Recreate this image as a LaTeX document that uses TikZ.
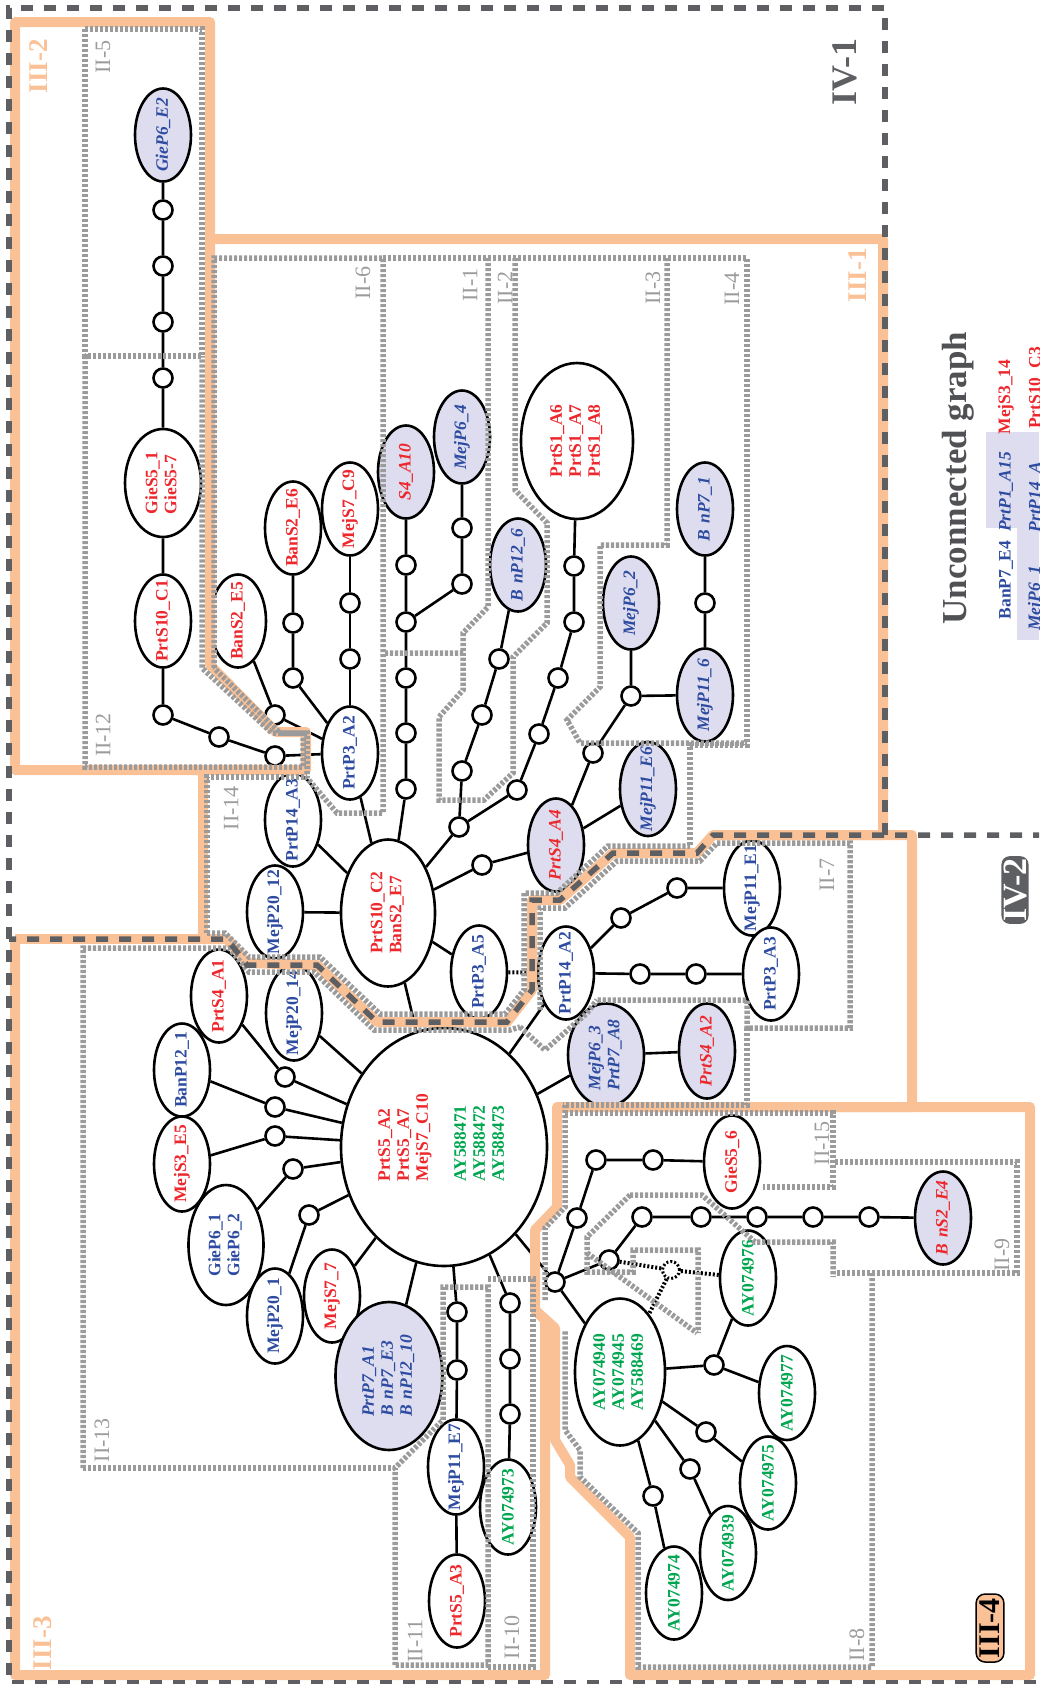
\documentclass[tikz,border=0pt]{standalone}
\usepackage{fontspec}
\setmainfont{Liberation Serif}
\usetikzlibrary{shapes.geometric,backgrounds}
\definecolor{cred}{RGB}{237,40,45}
\definecolor{cblue}{RGB}{45,75,160}
\definecolor{cgreen}{RGB}{0,166,80}
\definecolor{clav}{RGB}{221,221,239}
\definecolor{corange}{RGB}{250,193,150}
\definecolor{cdark}{RGB}{94,95,99}
\definecolor{cgray}{RGB}{155,155,155}
\newcommand\Tx[1]{\makebox[0pt]{#1}}
\newcommand\Tm[1]{\makebox[0pt]{\begin{tabular}{@{}l@{}}#1\end{tabular}}}
\tikzset{
 ebox/.style={ellipse, draw=black, line width=2.6pt, fill=white, inner sep=0pt, rotate=90,
   minimum width=93pt, minimum height=56pt, font=\fontsize{17.5}{19}\selectfont\bfseries},
 elav/.style={ebox, fill=clav, font=\fontsize{17.5}{19}\selectfont\bfseries\itshape},
 dotn/.style={circle, draw=black, line width=2.6pt, fill=white, minimum size=19pt, inner sep=0pt},
 ddot/.style={circle, draw=black, line width=3pt, dash pattern=on 2pt off 2pt, fill=white, minimum size=17pt, inner sep=0pt},
 edge/.style={line width=2.6pt},
 bdot/.style={line width=4pt, dash pattern=on 2pt off 2pt},
 orng/.style={draw=corange, line width=10pt, line join=round},
 dotg/.style={draw=cgray, line width=5.5pt, dash pattern=on 3.2pt off 1.8pt},
 dashd/.style={draw=cdark, line width=5.5pt, dash pattern=on 12pt off 11pt},
 iilab/.style={rotate=90, text=cgray, font=\fontsize{22}{22}\selectfont},
 iiilab/.style={rotate=90, text=corange, font=\fontsize{27}{27}\selectfont\bfseries},
}
\begin{document}
\begin{tikzpicture}[x=1pt,y=-1pt]
\useasboundingbox (0,0) rectangle (1039,1684);
\clip (0,0) rectangle (1039,1684);
% ---------------- nodes ----------------
\node[elav,text=cblue] (ge2) at (163,135) {\Tx{GieP6\_E2}};
\node[dotn] (d1) at (163,210) {};
\node[dotn] (d2) at (163,266) {};
\node[dotn] (d3) at (163,322) {};
\node[dotn] (d4) at (163,378) {};
\node[ebox,text=cred,minimum width=108pt,minimum height=76pt] (gs5) at (163,483) {\Tm{GieS5\_1\\GieS5-7}};
\node[ebox,text=cred] (c1) at (163,621) {\Tx{PrtS10\_C1}};
\node[dotn] (d5) at (163,715) {};
\node[dotn] (d6) at (219,737) {};
\node[dotn] (d7) at (275,756) {};
\node[ebox,text=cred] (be5) at (238,621) {\Tx{BanS2\_E5}};
\node[dotn] (d8) at (275,715) {};
\node[ebox,text=cred] (be6) at (293,528) {\Tx{BanS2\_E6}};
\node[dotn] (d9) at (293,623) {};
\node[dotn] (d10) at (293,678) {};
\node[ebox,text=cred] (c9) at (350,509) {\Tx{MejS7\_C9}};
\node[dotn] (d11) at (350,603) {};
\node[dotn] (d12) at (350,659) {};
\node[ebox,text=cblue] (a2) at (350,753) {\Tx{PrtP3\_A2}};
\node[elav,text=cred] (a10) at (406,472) {\Tx{S4\_A10}};
\node[dotn] (d13) at (406,565) {};
\node[dotn] (d14) at (406,622) {};
\node[dotn] (d15) at (406,678) {};
\node[dotn] (d16) at (406,733) {};
\node[dotn] (d17) at (406,789) {};
\node[elav,text=cblue] (m4) at (462,437) {\Tx{MejP6\_4}};
\node[dotn] (d18) at (462,528) {};
\node[dotn] (d19) at (462,584) {};
\node[elav,text=cblue] (p12) at (518,565) {\Tx{B\hspace{6pt}nP12\_6}};
\node[dotn] (d20) at (499,659) {};
\node[dotn] (d21) at (482,715) {};
\node[dotn] (d22) at (462,771) {};
\node[dotn] (d23) at (459,827) {};
\node[ebox,text=cred,minimum width=156pt,minimum height=112pt] (s1) at (577,441) {\Tm{PrtS1\_A6\\PrtS1\_A7\\PrtS1\_A8}};
\node[dotn] (d24) at (574,566) {};
\node[dotn] (d25) at (574,622) {};
\node[dotn] (d26) at (558,678) {};
\node[dotn] (d27) at (539,734) {};
\node[dotn] (d28) at (517,790) {};
\node[elav,text=cblue] (mp62) at (631,603) {\Tx{MejP6\_2}};
\node[elav,text=cblue] (np71) at (705,509) {\Tx{B\hspace{6pt}nP7\_1}};
\node[dotn] (d29) at (705,603) {};
\node[elav,text=cblue] (m116) at (705,695) {\Tx{MejP11\_6}};
\node[dotn] (d30) at (631,696) {};
\node[dotn] (d31) at (593,753) {};
\node[elav,text=cred] (a4) at (556,845) {\Tx{PrtS4\_A4}};
\node[elav,text=cblue,minimum width=94pt] (e6) at (648,789) {\Tx{MejP11\_E6}};
\node[ebox,text=cred,minimum width=147pt,minimum height=94pt] (c2) at (388,913) {\Tm{PrtS10\_C2\\BanS2\_E7}};
\node[ebox,text=cblue] (a3p) at (293,820) {\Tx{PrtP14\_A3}};
\node[ebox,text=cblue] (m2012) at (275,912) {\Tx{MejP20\_12}};
\node[ebox,text=cblue,minimum width=95pt] (m2014) at (294,1013) {\Tx{MejP20\_14}};
\node[dotn] (d32) at (482,865) {};
\node[ebox,text=cblue] (a5) at (479,972) {\Tx{PrtP3\_A5}};
\node[ebox,text=cblue] (p14) at (566,973) {\Tx{PrtP14\_A2}};
\node[dotn] (d33) at (621,918) {};
\node[dotn] (d34) at (677,888) {};
\node[ebox,text=cblue,minimum width=95pt] (e1) at (752,888) {\Tx{MejP11\_E1}};
\node[dotn] (d35) at (640,974) {};
\node[dotn] (d36) at (696,974) {};
\node[ebox,text=cblue] (p3a3) at (771,974) {\Tx{PrtP3\_A3}};
\node[elav,text=cblue,minimum width=103pt,minimum height=76pt] (m63) at (606,1055) {\Tm{MejP6\_3\\PrtP7\_A8}};
\node[elav,text=cred,minimum width=95pt] (s4a2) at (707,1051) {\Tx{PrtS4\_A2}};
\node[ellipse,draw=black,line width=2.6pt,fill=white,minimum width=206pt,minimum height=238pt,inner sep=0pt] (hub) at (444,1147) {};
\node[rotate=90,anchor=west,text=cred,font=\fontsize{17.5}{19}\selectfont\bfseries] (hubr) at (405,1185) {\begin{tabular}{@{}l@{}}PrtS5\_A2\\PrtS5\_A7\\MejS7\_C10\end{tabular}};
\node[rotate=90,anchor=west,text=cgreen,font=\fontsize{17.5}{19}\selectfont\bfseries] (hubg) at (481,1185) {\begin{tabular}{@{}l@{}}AY588471\\AY588472\\AY588473\end{tabular}};
\node[ebox,text=cred] (a1) at (219,996) {\Tx{PrtS4\_A1}};
\node[dotn] (d37) at (285,1077) {};
\node[ebox,text=cblue] (b121) at (182,1070) {\Tx{BanP12\_1}};
\node[dotn] (d38) at (275,1107) {};
\node[ebox,text=cred,minimum width=95pt] (e5) at (182,1164) {\Tx{MejS3\_E5}};
\node[dotn] (d39) at (275,1136) {};
\node[ebox,text=cblue,minimum width=120pt,minimum height=75pt] (g6) at (226,1245) {\Tm{GieP6\_1\\GieP6\_2}};
\node[dotn] (d40) at (293,1169) {};
\node[ebox,text=cblue,minimum width=95pt] (m201) at (275,1316) {\Tx{MejP20\_1}};
\node[dotn] (d41) at (309,1215) {};
\node[ebox,text=cred] (s77) at (332,1296) {\Tx{MejS7\_7}};
\node[elav,text=cblue,minimum width=148pt,minimum height=107pt] (p7a1) at (389,1376) {\Tm{PrtP7\_A1\\B\hspace{6pt}nP7\_E3\\B\hspace{6pt}nP12\_10}};
\node[dotn] (d42) at (457,1312) {};
\node[dotn] (d43) at (457,1370) {};
\node[ebox,text=cblue,minimum width=95pt] (e7) at (456,1467) {\Tx{MejP11\_E7}};
\node[ebox,text=cred] (s5a3) at (457,1601) {\Tx{PrtS5\_A3}};
\node[dotn] (d44) at (510,1303) {};
\node[dotn] (d45) at (510,1359) {};
\node[dotn] (d46) at (510,1414) {};
\node[ebox,text=cgreen,minimum width=95pt] (ay73) at (508,1507) {\Tx{AY074973}};
\node[dotn] (d47) at (555,1282) {};
\node[dotn] (d48) at (577,1218) {};
\node[dotn] (d49) at (596,1160) {};
\node[dotn] (d50) at (653,1160) {};
\node[ebox,text=cred] (g56) at (732,1162) {\Tx{GieS5\_6}};
\node[dotn] (d51) at (609,1260) {};
\node[dotn] (d52) at (642,1217) {};
\node[dotn] (d53) at (701,1217) {};
\node[dotn] (d54) at (757,1217) {};
\node[dotn] (d55) at (813,1217) {};
\node[dotn] (d56) at (869,1217) {};
\node[elav,text=cred] (e4) at (943,1218) {\Tx{B\hspace{6pt}nS2\_E4}};
\node[ddot] (dd) at (671,1270) {};
\node[ebox,text=cgreen,minimum width=95pt] (ay76) at (748,1278) {\Tx{AY074976}};
\node[ebox,text=cgreen,minimum width=147pt,minimum height=90pt] (big) at (620,1372) {\Tm{AY074940\\AY074945\\AY588469}};
\node[dotn] (d57) at (714,1365) {};
\node[ebox,text=cgreen,minimum width=94pt] (ay77) at (787,1393) {\Tx{AY074977}};
\node[dotn] (d58) at (706,1432) {};
\node[ebox,text=cgreen] (ay75) at (768,1483) {\Tx{AY074975}};
\node[dotn] (d59) at (690,1469) {};
\node[ebox,text=cgreen,minimum width=94pt] (ay39) at (728,1553) {\Tx{AY074939}};
\node[dotn] (d60) at (653,1496) {};
\node[ebox,text=cgreen] (ay74) at (674,1593) {\Tx{AY074974}};
% ---------------- edges ----------------
\begin{pgfonlayer}{background}
\draw[edge] (ge2) -- (d1) -- (d2) -- (d3) -- (d4) -- (gs5) -- (c1) -- (d5) -- (d6) -- (d7) -- (a2);
\draw[edge] (be5) -- (d8) -- (a2);
\draw[edge] (be6) -- (d9) -- (d10) -- (a2);
\draw[edge] (c9) -- (d11) -- (d12) -- (a2);
\draw[edge] (a2) -- (c2);
\draw[edge] (a10) -- (d13) -- (d14) -- (d15) -- (d16) -- (d17) -- (c2);
\draw[edge] (m4) -- (d18) -- (d19) -- (d14);
\draw[edge] (p12) -- (d20) -- (d21) -- (d22) -- (d23) -- (c2);
\draw[edge] (s1) -- (d24) -- (d25) -- (d26) -- (d27) -- (d28) -- (d23);
\draw[edge] (np71) -- (d29) -- (m116) -- (d30) -- (mp62);
\draw[edge] (d30) -- (d31) -- (a4) -- (e6);
\draw[edge] (c2) -- (d32) -- (a4);
\draw[edge] (a3p) -- (c2);
\draw[edge] (m2012) -- (c2);
\draw[edge] (c2) -- (a5);
\draw[edge] (c2) -- (hub);
\draw[edge] (p14) -- (d33) -- (d34) -- (e1);
\draw[edge] (p14) -- (d35) -- (d36) -- (p3a3);
\draw[edge] (p14) -- (hub);
\draw[edge] (m63) -- (hub);
\draw[edge] (m63) -- (s4a2);
\draw[edge] (m2014) -- (hub);
\draw[edge] (a1) -- (d37) -- (hub);
\draw[edge] (b121) -- (d38) -- (hub);
\draw[edge] (e5) -- (d39) -- (hub);
\draw[edge] (g6) -- (d40) -- (hub);
\draw[edge] (m201) -- (d41) -- (hub);
\draw[edge] (s77) -- (hub);
\draw[edge] (p7a1) -- (hub);
\draw[edge] (hub) -- (d42) -- (d43) -- (e7) -- (s5a3);
\draw[edge] (hub) -- (d44) -- (d45) -- (d46) -- (ay73);
\draw[edge] (hub) -- (d47);
\draw[edge] (d47) -- (d48) -- (d49) -- (d50) -- (g56);
\draw[edge] (d47) -- (d51) -- (d52) -- (d53) -- (d54) -- (d55) -- (d56) -- (e4);
\draw[edge] (d47) -- (big);
\draw[edge] (ay76) -- (d57);
\draw[edge] (big) -- (d57) -- (ay77);
\draw[edge] (big) -- (d58) -- (ay75);
\draw[edge] (big) -- (d59) -- (ay39);
\draw[edge] (big) -- (d60) -- (ay74);
\end{pgfonlayer}
\draw[bdot] (a5) -- (p14);
\draw[bdot] (d51) -- (dd) -- (ay76);
\draw[bdot] (dd) -- (big);
% ---------------- orange III frames ----------------
\draw[orng] (15,22) -- (210,22) -- (210,665) -- (276,732) -- (306,732) -- (306,770) -- (15,770) -- cycle;
\draw[orng] (210,239) -- (883,239) -- (883,835) -- (713,835) -- (697,853) -- (613,853) -- (560,900) -- (532,900) -- (532,990) -- (507,1022) -- (377,1022) -- (317,965) -- (247,963) -- (227,939) -- (203,939) -- (203,770);
\draw[orng] (15,939) -- (227,939);
\draw[orng] (713,835) -- (912,835) -- (912,1107) -- (557,1107) -- (557,1207) -- (535,1230) -- (535,1310) -- (545,1320) -- (545,1675) -- (15,1675) -- (15,939);
\draw[orng] (557,1107) -- (1030,1107) -- (1030,1675) -- (630,1675) -- (630,1537) -- (570,1477) -- (570,1465) -- (555,1440) -- (555,1328) -- (535,1310);
% ---------------- gray dotted II frames ----------------
\draw[dotg] (85,29) -- (202,29) -- (202,356) -- (85,356) -- cycle;
\draw[dotg] (85,356) -- (85,767) -- (303,767) -- (303,733) -- (272,733) -- (202,668) -- (202,356);
\draw[dotg] (214,668) -- (214,258) -- (383,258) -- (383,813) -- (337,813) -- (307,778) -- (307,733) -- (280,733) -- cycle;
\draw[dotg] (383,258) -- (747,258) -- (747,745) -- (690,745) -- (690,847);
\draw[dotg] (488,258) -- (488,607) -- (463,633) -- (463,653) -- (385,653);
\draw[dotg] (515,258) -- (515,490) -- (547,523) -- (547,623) -- (513,657) -- (513,773) -- (484,800) -- (439,800) -- (439,717) -- (463,690) -- (463,653);
\draw[dotg] (667,258) -- (667,545) -- (600,545) -- (600,687) -- (567,720) -- (580,743) -- (747,743);
\draw[dotg] (207,933) -- (207,777) -- (307,777);
\draw[dotg] (207,933) -- (225,933) -- (249,957) -- (320,957) -- (380,1014) -- (505,1014) -- (524,990) -- (524,893) -- (557,893) -- (608,846) -- (690,846);
\draw[dotg] (83,1468) -- (83,948) -- (229,948) -- (249,972) -- (314,972) -- (374,1030) -- (510,1030) -- (520,1027);
\draw[dotg] (520,1027) -- (545,1050) -- (587,1013) -- (597,1000);
\draw[dotg] (540,1010) -- (540,908) -- (565,908) -- (617,861) -- (700,861) -- (717,843) -- (850,843) -- (850,1028) -- (747,1028) -- (747,1000) -- (597,1000);
\draw[dotg] (747,1028) -- (747,1105) -- (563,1105);
\draw[dotg] (565,1105) -- (565,1207) -- (545,1228) -- (545,1300);
\draw[dotg] (565,1113) -- (833,1113) -- (833,1187) -- (763,1187);
\draw[dotg] (630,1195) -- (702,1195) -- (755,1242) -- (833,1242) -- (833,1277);
\draw[dotg] (630,1195) -- (587,1237) -- (587,1272) -- (633,1272) -- (633,1250) -- (698,1250) -- (698,1333);
\draw[dotg] (587,1253) -- (697,1333);
\draw[dotg] (835,1162) -- (1017,1162) -- (1017,1273) -- (835,1273);
\draw[dotg] (872,1273) -- (872,1667) -- (638,1667) -- (638,1533) -- (580,1477) -- (580,1450) -- (565,1430) -- (565,1330);
\draw[dotg] (395,1665) -- (395,1468) -- (443,1420) -- (443,1287) -- (488,1287) -- (488,1665) -- cycle;
\draw[dotg] (488,1279) -- (533,1279) -- (533,1667) -- (488,1667);
\draw[dotg] (83,1468) -- (395,1468);
% ---------------- dark dashed IV frames ----------------
\draw[dashd] (1045,835) -- (713,835) -- (697,853) -- (613,853) -- (560,900) -- (532,900) -- (532,990) -- (507,1022) -- (377,1022) -- (317,965) -- (247,965) -- (227,939) -- (9,939);
\draw[dashd] (885,835) -- (885,8) -- (9,8) -- (9,1683) -- (1045,1683);
% ---------------- labels ----------------
\node[iilab] (l5) at (103,57) {II-5};
\node[iilab] (l12) at (103,735) {II-12};
\node[iilab] (l6) at (363,283) {II-6};
\node[iilab] (l1) at (470,285) {II-1};
\node[iilab] (l2) at (505,288) {II-2};
\node[iilab] (l3) at (653,288) {II-3};
\node[iilab] (l4) at (732,289) {II-4};
\node[iilab] (l14) at (231,808) {II-14};
\node[iilab] (l7) at (827,875) {II-7};
\node[iilab] (l15) at (822,1143) {II-15};
\node[iilab] (l9) at (1002,1255) {II-9};
\node[iilab] (l8) at (857,1645) {II-8};
\node[iilab] (l13) at (102,1440) {II-13};
\node[iilab] (l11) at (415,1641) {II-11};
\node[iilab] (l10) at (512,1637) {II-10};
\node[iiilab] (t2) at (39,66) {III-2};
\node[iiilab] (t1) at (858,275) {III-1};
\node[iiilab] (t3) at (43,1643) {III-3};
\node[rotate=90, fill=corange, draw=black, line width=1.5pt, rounded corners=9pt, inner sep=4pt, font=\fontsize{30}{30}\selectfont\bfseries] (t4) at (990,1628) {III-4};
\node[rotate=90, text=cdark, font=\fontsize{36}{36}\selectfont\bfseries] (v1) at (845,72) {IV-1};
\node[rotate=90, fill=cdark, text=white, rounded corners=8pt, inner sep=2pt, font=\fontsize{34}{34}\selectfont\bfseries] (v2) at (1015,890) {IV-2};
% ---------------- unconnected graph ----------------
\node[rotate=90, text=cdark!85!black, font=\fontsize{35}{35}\selectfont\bfseries] (ug) at (958,478) {Unconnected graph};
\fill[clav] (986,432) rectangle (1023,528);
\fill[clav] (1017,432) rectangle (1050,640);
\node[rotate=90, text=cred, font=\fontsize{17.5}{17.5}\selectfont\bfseries] (u1) at (1006,397) {MejS3\_14};
\node[rotate=90, text=cblue, font=\fontsize{17.5}{17.5}\selectfont\bfseries\itshape] (u2) at (1006,492) {PrtP1\_A15};
\node[rotate=90, text=cblue, font=\fontsize{17.5}{17.5}\selectfont\bfseries] (u3) at (1006,580) {BanP7\_E4};
\node[rotate=90, text=cred, font=\fontsize{17.5}{17.5}\selectfont\bfseries] (u4) at (1036,388) {PrtS10\_C3};
\node[rotate=90, text=cblue, font=\fontsize{17.5}{17.5}\selectfont\bfseries\itshape] (u5) at (1036,497) {PrtP14\_A};
\node[rotate=90, text=cblue, font=\fontsize{17.5}{17.5}\selectfont\bfseries\itshape] (u6) at (1036,598) {MejP6\_1};
\end{tikzpicture}
\end{document}
